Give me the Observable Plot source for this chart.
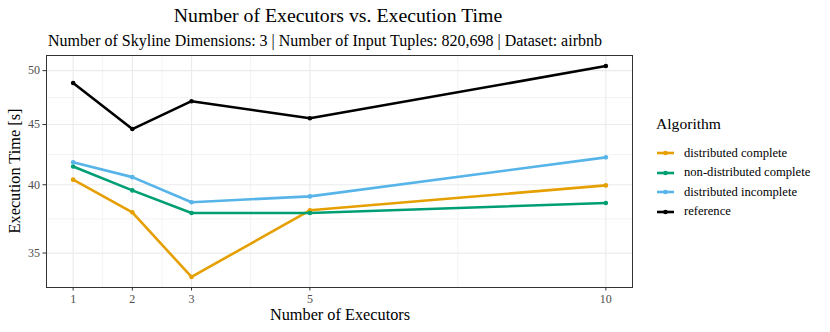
<!DOCTYPE html>
<html>
<head>
<meta charset="utf-8">
<script src="https://cdn.jsdelivr.net/npm/d3@7"></script>
<script src="https://cdn.jsdelivr.net/npm/@observablehq/plot@0.6"></script>
<style>
  body { margin: 0; background: #fff; }
  #wrap { position: relative; width: 830px; height: 332px; font-family: "Liberation Serif", "DejaVu Serif", serif; color: #000; }
  #wrap > svg { position: absolute; left: 0; top: 0; }
  .lbl { position: absolute; white-space: nowrap; line-height: 1; }
  g[aria-label$="tick label"] { fill: #4D4D4D; }
  .leg-item { position: absolute; left: 655px; height: 16px; display: flex; align-items: center; font-size: 12.6px; }
  .leg-item svg { margin-right: 9px; }
</style>
</head>
<body>
<div id="wrap"></div>
<script>
const algorithms = ["distributed complete", "non-distributed complete", "distributed incomplete", "reference"];
const colors = ["#E69F00", "#009E73", "#56B4E9", "#000000"];
const executors = [1, 2, 3, 5, 10];
const distributedComplete = [40.4, 37.9, 33.4, 38.05, 39.95];
const nonDistributedComplete = [41.45, 39.56, 37.85, 37.85, 38.6];
const distributedIncomplete = [41.8, 40.6, 38.65, 39.1, 42.2];
const reference = [48.8, 44.6, 47.1, 45.55, 50.45];
const xTicks = [1, 2, 3, 5, 10];
const yTicks = [35, 40, 45, 50];

const seriesValues = [distributedComplete, nonDistributedComplete, distributedIncomplete, reference];
const data = [];
algorithms.forEach((a, i) => executors.forEach((x, j) => data.push({algorithm: a, executors: x, time: seriesValues[i][j]})));

// ggplot-style expansion and minor breaks
const xMin = d3.min(executors), xMax = d3.max(executors);
const xPad = (xMax - xMin) * 0.05;
const allY = data.map(d => d.time);
const lMin = Math.log(d3.min(allY)), lMax = Math.log(d3.max(allY));
const lPad = (lMax - lMin) * 0.05;
const yDomain = [Math.exp(lMin - lPad), Math.exp(lMax + lPad)];
const xMinor = d3.pairs(xTicks).map(([a, b]) => (a + b) / 2);
const yMinor = d3.pairs(yTicks).map(([a, b]) => Math.sqrt(a * b));

const grid = "#EBEBEB";
const chart = Plot.plot({
  width: 830,
  height: 332,
  marginLeft: 46,
  marginRight: 198,
  marginTop: 55,
  marginBottom: 45,
  style: {fontFamily: "Liberation Serif, serif", fontSize: "12px", background: "transparent"},
  x: {domain: [xMin - xPad, xMax + xPad]},
  y: {type: "log", domain: yDomain},
  color: {domain: algorithms, range: colors},
  marks: [
    Plot.ruleX(xMinor, {stroke: grid, strokeWidth: 0.6}),
    Plot.ruleY(yMinor, {stroke: grid, strokeWidth: 0.6}),
    Plot.ruleX(xTicks, {stroke: grid, strokeWidth: 1.2}),
    Plot.ruleY(yTicks, {stroke: grid, strokeWidth: 1.2}),
    Plot.axisX({ticks: xTicks, tickSize: 3.5, tickPadding: 3, stroke: "#333333", label: null, fontSize: 12}),
    Plot.axisY({ticks: yTicks, tickSize: 3.5, tickPadding: 3, stroke: "#333333", label: null, tickFormat: d3.format("d"), fontSize: 12}),
    Plot.line(data, {x: "executors", y: "time", stroke: "algorithm", z: "algorithm", strokeWidth: 2.6}),
    Plot.dot(data, {x: "executors", y: "time", fill: "algorithm", r: 2.3}),
    Plot.frame({stroke: "#333333", strokeWidth: 1})
  ]
});
const wrap = document.getElementById("wrap");
wrap.appendChild(chart);

function addLabel(text, style) {
  const d = document.createElement("div");
  d.className = "lbl";
  d.textContent = text;
  Object.assign(d.style, style);
  wrap.appendChild(d);
  return d;
}
addLabel("Number of Executors vs. Execution Time", {left: "338px", top: "5.5px", fontSize: "19.8px", transform: "translateX(-50%)"});
addLabel("Number of Skyline Dimensions: 3 | Number of Input Tuples: 820,698 | Dataset: airbnb", {left: "325px", top: "32.5px", fontSize: "16px", transform: "translateX(-50%)"});
addLabel("Number of Executors", {left: "340px", top: "306.5px", fontSize: "16.3px", transform: "translateX(-50%)"});
addLabel("Execution Time [s]", {left: "15px", top: "171px", fontSize: "16.3px", transform: "translate(-50%, -50%) rotate(-90deg)"});
addLabel("Algorithm", {left: "656px", top: "116px", fontSize: "15.6px"});

algorithms.forEach((a, i) => {
  const item = document.createElement("div");
  item.className = "leg-item";
  item.style.top = (145 + i * 19.6) + "px";
  const ns = "http://www.w3.org/2000/svg";
  const s = document.createElementNS(ns, "svg");
  s.setAttribute("width", 20); s.setAttribute("height", 16);
  const ln = document.createElementNS(ns, "line");
  ln.setAttribute("x1", 2); ln.setAttribute("x2", 19); ln.setAttribute("y1", 8); ln.setAttribute("y2", 8);
  ln.setAttribute("stroke", colors[i]); ln.setAttribute("stroke-width", 2.6);
  const c = document.createElementNS(ns, "circle");
  c.setAttribute("cx", 10.5); c.setAttribute("cy", 8); c.setAttribute("r", 2.3); c.setAttribute("fill", colors[i]);
  s.appendChild(ln); s.appendChild(c);
  item.appendChild(s);
  const t = document.createElement("span");
  t.textContent = a;
  item.appendChild(t);
  wrap.appendChild(item);
});
</script>
</body>
</html>
